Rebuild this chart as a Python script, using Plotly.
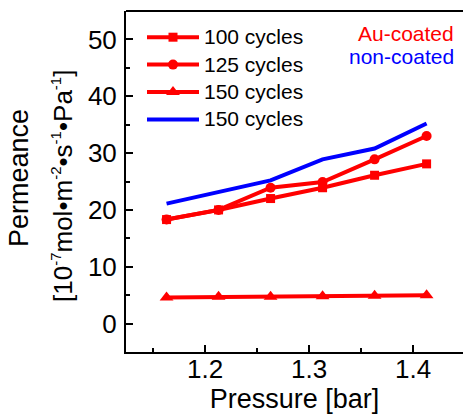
import plotly.graph_objects as go

# Pressure points (bar) and permeance (1e-7 mol m^-2 s^-1 Pa^-1)
pressure = [1.163, 1.213, 1.263, 1.313, 1.363, 1.413]
au_100_cycles = [18.3, 20.0, 22.0, 23.9, 26.1, 28.1]
au_125_cycles = [18.3, 20.0, 23.9, 24.9, 28.9, 33.0]
au_150_cycles = [4.6, 4.7, 4.7, 4.8, 4.9, 5.0]
nc_150_cycles = [21.1, 23.1, 25.2, 28.9, 30.8, 35.2]

series_names = ["100 cycles", "125 cycles", "150 cycles", "150 cycles"]

x_ticks = [1.2, 1.3, 1.4]
y_ticks = [0, 10, 20, 30, 40, 50]

RED = "#ff0000"
BLUE = "#0000ff"
FONT = "Liberation Sans, Arial, sans-serif"

W, H = 463, 417
L, R, T, B = 126, 0, 11, 65
PW, PH = W - L - R, H - T - B


def px_x(x):
    """Horizontal pixel position -> paper fraction."""
    return (x - L) / PW


def px_y(y):
    """Vertical pixel position (from top) -> paper fraction."""
    return (H - B - y) / PH


def legend_label(name):
    return f'<span style="font-size:21px">{name}</span>'


def sup(s):
    return f'<sup><span style="font-size:15px">{s}</span></sup>'


fig = go.Figure()
fig.add_trace(go.Scatter(x=pressure, y=au_100_cycles, name=legend_label(series_names[0]),
                         legendgroup="g0", mode="lines+markers",
                         line=dict(color=RED, width=4),
                         marker=dict(symbol="square", size=9, color=RED)))
fig.add_trace(go.Scatter(x=pressure, y=au_125_cycles, name=legend_label(series_names[1]),
                         legendgroup="g1", mode="lines+markers",
                         line=dict(color=RED, width=4),
                         marker=dict(symbol="circle", size=10, color=RED)))
fig.add_trace(go.Scatter(x=pressure, y=au_150_cycles, name=legend_label(series_names[2]),
                         legendgroup="g2", mode="lines+markers",
                         line=dict(color=RED, width=4),
                         marker=dict(symbol="triangle-up", size=12, color=RED)))
fig.add_trace(go.Scatter(x=pressure, y=nc_150_cycles, name=legend_label(series_names[3]),
                         legendgroup="g3", mode="lines",
                         line=dict(color=BLUE, width=4)))

axis_common = dict(
    showline=True, linecolor="black", linewidth=2,
    ticks="inside", ticklen=7, tickwidth=2, tickcolor="black",
    showgrid=False, zeroline=False,
    tickfont=dict(family=FONT, size=26, color="black"),
)

fig.update_xaxes(range=[1.124, 1.448], tickvals=x_ticks,
                 ticktext=[f"{v:.1f}" for v in x_ticks],
                 ticklabelstandoff=-7,
                 minor=dict(tickvals=[1.15, 1.25, 1.35], ticks="inside",
                            ticklen=4, tickwidth=2, tickcolor="black"),
                 title=dict(text="Pressure [bar]", standoff=5,
                            font=dict(family=FONT, size=27, color="black")),
                 **axis_common)
fig.update_yaxes(range=[-5, 55], tickvals=y_ticks,
                 ticktext=[str(v) for v in y_ticks],
                 ticklabelstandoff=2,
                 minor=dict(tickvals=[-5, 5, 15, 25, 35, 45, 55], ticks="inside",
                            ticklen=4, tickwidth=2, tickcolor="black"),
                 **axis_common)

# top frame line (no right-hand border)
fig.add_shape(type="line", xref="paper", yref="paper", x0=0, x1=1, y0=1, y1=1,
              line=dict(color="black", width=2))

unit_text = (f"[10{sup('-7')}mol•m{sup('-2')}•s{sup('-1')}•Pa{sup('-1')}]")

annotations = [
    dict(text="Permeance", x=px_x(19), y=px_y(178),
         xanchor="center", yanchor="middle", textangle=-90, showarrow=False,
         font=dict(family=FONT, size=27, color="black")),
    dict(text=unit_text,
         x=px_x(62), y=px_y(186),
         xanchor="center", yanchor="middle", textangle=-90, showarrow=False,
         font=dict(family=FONT, size=26, color="black")),
    dict(text="Au-coated", x=px_x(456), y=px_y(33),
         xanchor="right", yanchor="middle", showarrow=False,
         font=dict(family=FONT, size=21, color=RED)),
    dict(text="non-coated", x=px_x(456), y=px_y(56),
         xanchor="right", yanchor="middle", showarrow=False,
         font=dict(family=FONT, size=21, color=BLUE)),
]
for a in annotations:
    a["xref"] = "paper"
    a["yref"] = "paper"

fig.update_layout(
    width=W, height=H,
    margin=dict(l=L, r=R, t=T, b=B),
    plot_bgcolor="white", paper_bgcolor="white",
    annotations=annotations,
    legend=dict(x=px_x(142), y=px_y(19), xanchor="left", yanchor="top",
                bgcolor="rgba(0,0,0,0)", borderwidth=0,
                itemwidth=52, tracegroupgap=1,
                font=dict(family=FONT, size=18, color="black")),
)

fig.write_html("out.html")
